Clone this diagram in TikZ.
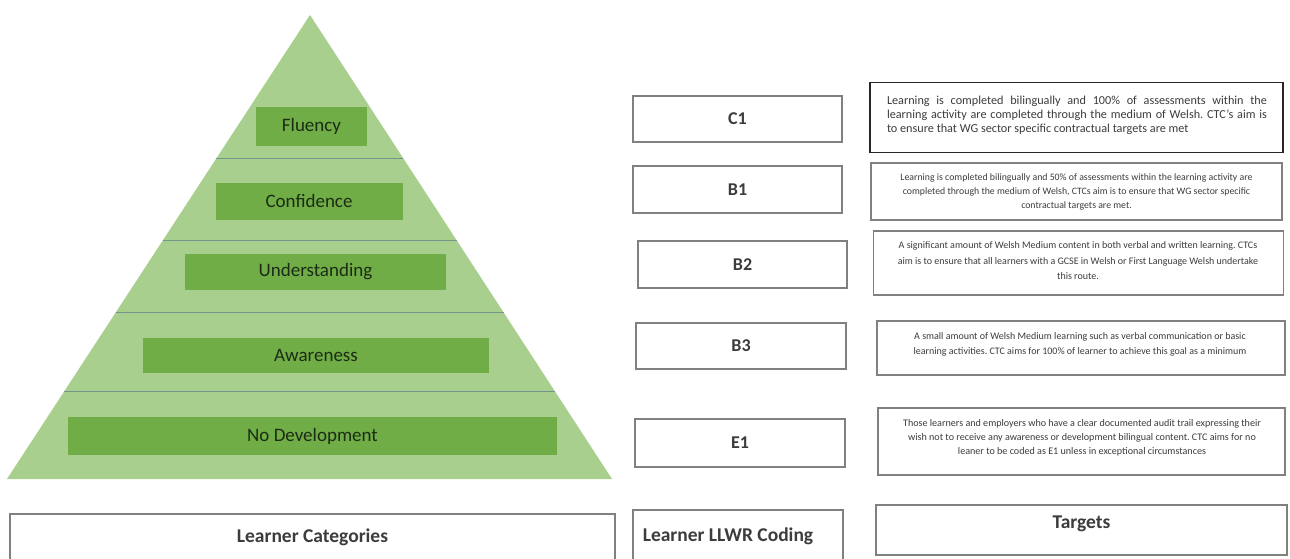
\documentclass[tikz,border=0pt]{standalone}
\usepackage{fontspec}
\setmainfont{Carlito}
\usetikzlibrary{calc}
\definecolor{pyrgreen}{RGB}{168,207,141}
\definecolor{bargreen}{RGB}{112,173,71}
\definecolor{bartext}{RGB}{28,44,20}
\definecolor{divline}{RGB}{115,150,140}
\definecolor{boxgray}{RGB}{128,128,128}
\definecolor{txtgray}{RGB}{60,60,60}
\tikzset{
  bar/.style={fill=bargreen, draw=none, text=bartext, font=\fontsize{19}{22}\selectfont, inner sep=0pt},
  codebox/.style={draw=boxgray, line width=1.6pt, fill=white, text=txtgray, font=\fontsize{18}{21}\selectfont\bfseries, inner sep=0pt},
  targetbox/.style={draw=boxgray, line width=1.6pt, fill=white, text=txtgray, inner sep=0pt},
  targettext/.style={text=txtgray, align=center, inner sep=0pt},
  heading/.style={font=\fontsize{19.5}{22}\selectfont\bfseries, text=txtgray},
  divider/.style={draw=divline, line width=0.8pt},
}
\begin{document}
\frenchspacing
\begin{tikzpicture}[x=1pt,y=-1pt]
\clip (0,0) rectangle (1290,559);
\fill[white] (0,0) rectangle (1290,559);
% pyramid
\coordinate (apex) at (310,15);
\coordinate (bl) at (7,479);
\coordinate (br) at (612,479);
\fill[pyrgreen] (apex) -- (br) -- (bl) -- cycle;
\foreach \t in {0.309,0.486,0.641,0.812}{
  \draw[divider] ($(apex)!\t!(bl)$) -- ($(apex)!\t!(br)$);
}
% category bars
\node[bar, minimum width=111, minimum height=39] (fluency) at (311.5,126.5) {Fluency};
\node[bar, minimum width=187, minimum height=37] (confidence) at (309,201) {Confidence};
\node[bar, minimum width=261, minimum height=36] (understanding) at (315.5,272) {Understanding};
\node[bar, minimum width=346, minimum height=35] (awareness) at (316,355) {Awareness};
\node[bar, minimum width=489, minimum height=38] (nodev) at (312.5,436) {No Development};
% code boxes
\node[codebox, minimum width=209, minimum height=46] (c1) at (737.5,119) {C1};
\node[codebox, minimum width=209, minimum height=47] (b1) at (737.5,189.5) {B1};
\node[codebox, minimum width=209, minimum height=47] (b2) at (742.5,264.5) {B2};
\node[codebox, minimum width=210, minimum height=46] (b3) at (741,346) {B3};
\node[codebox, minimum width=210, minimum height=48] (e1) at (740,443) {E1};
% target boxes
\node[targetbox, draw=black!85, line width=1.8pt, minimum width=413, minimum height=70] (tc1) at (1076.5,117.5) {};
\node[targettext, text width=380, align=justify, font=\fontsize{12.2}{14}\selectfont] (tc1t) at (1077,115) {Learning is completed bilingually and 100\% of assessments within the\linebreak learning activity are completed through the medium of Welsh. CTC's aim is\linebreak to ensure that WG sector specific contractual targets are met};
\node[targetbox, minimum width=411, minimum height=57] (tb1) at (1076.5,191.5) {};
\node[targettext, font=\fontsize{9.8}{14}\selectfont] (tb1t) at (tb1.center) {Learning is completed bilingually and 50\% of assessments within the learning activity are\\completed through the medium of Welsh, CTCs aim is to ensure that WG sector specific\\contractual targets are met.};
\node[targetbox, minimum width=410, minimum height=64] (tb2) at (1078.5,263) {};
\node[targettext, font=\fontsize{10}{15.5}\selectfont] (tb2t) at (1078,261) {A significant amount of Welsh Medium content in both verbal and written learning. CTCs\\aim is to ensure that all learners with a GCSE in Welsh or First Language Welsh undertake\\this route.};
\node[targetbox, minimum width=408, minimum height=54] (tb3) at (1081,348) {};
\node[targettext, font=\fontsize{10}{15}\selectfont] (tb3t) at (1080,344.5) {A small amount of Welsh Medium learning such as verbal communication or basic\\learning activities. CTC aims for 100\% of learner to achieve this goal as a minimum};
\node[targetbox, minimum width=407, minimum height=67] (te1) at (1081.5,441.5) {};
\node[targettext, font=\fontsize{10.1}{14}\selectfont] (te1t) at (1082,438) {Those learners and employers who have a clear documented audit trail expressing their\\wish not to receive any awareness or development bilingual content. CTC aims for no\\leaner to be coded as E1 unless in exceptional circumstances};
% headings
\node[codebox, minimum width=605, minimum height=52] (lc) at (312.5,540) {};
\node[heading] (lct) at (312.5,537) {Learner Categories};
\node[codebox, minimum width=210, minimum height=56] (llwr) at (738,538) {};
\node[heading] (llwrt) at (728,536) {Learner LLWR Coding};
\node[codebox, minimum width=411, minimum height=50] (tg) at (1081.5,530) {};
\node[heading] (tgt) at (1081.5,524) {Targets};
\end{tikzpicture}
\end{document}
